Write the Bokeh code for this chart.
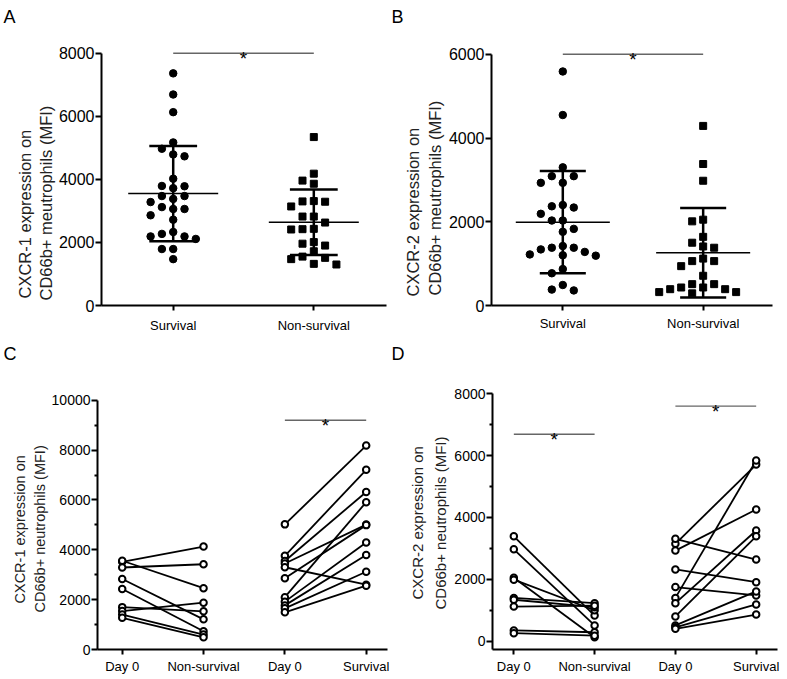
import numpy as np
from bokeh.plotting import figure
from bokeh.models import FixedTicker, Range1d, Title
from bokeh.layouts import row, column
from bokeh.embed import file_html
from bokeh.resources import INLINE
from bokeh.core.properties import value

FONT = "Liberation Sans"

# ---------------- data ----------------
# Panel A: CXCR-1 (MFI), Survival vs Non-survival
a_labels = ["Survival", "Non-survival"]
a_survival = [7360, 6690, 6130, 5170, 4970, 4790, 4730, 4020, 3790, 3780, 3720,
              3470, 3470, 3380, 3280, 3120, 3060, 3060, 2860, 2720, 2330, 2270,
              2190, 2190, 2110, 1790, 1790, 1470]
a_nonsurvival = [5340, 4180, 3960, 3860, 3310, 3300, 3290, 3140, 2820, 2820, 2630,
                 2430, 2420, 2410, 2010, 1960, 1900, 1720, 1550, 1510, 1470, 1320, 1300]
a_mean = [3550, 2640]
a_sd = [1510, 1040]
a_sig = 8000

# Panel B: CXCR-2 (MFI), Survival vs Non-survival
b_labels = ["Survival", "Non-survival"]
b_survival = [5590, 4550, 3300, 3090, 3090, 2930, 2930, 2400, 2370, 2340, 2190,
              2030, 2030, 1830, 1760, 1420, 1380, 1380, 1340, 1280, 1220, 1200,
              1190, 870, 770, 490, 380, 360]
b_nonsurvival = [4290, 3380, 2980, 2050, 2010, 1640, 1500, 1410, 1380, 1120, 1060,
                 1060, 940, 710, 510, 510, 430, 430, 390, 390, 320, 320, 290]
b_mean = [1990, 1260]
b_sd = [1220, 1070]
b_sig = 6000

# Panel C: CXCR-1 paired
cd_labels = ["Day 0", "Non-survival", "Day 0", "Survival"]
c_day0_ns = [3520, 3290, 3560, 2830, 2430, 1700, 1540, 1400, 1270]
c_nonsurv = [4130, 3420, 2460, 1210, 730, 1530, 1880, 600, 490]
c_day0_s = [5020, 3760, 3550, 3450, 3300, 2860, 2100, 1920, 1770, 1650, 1490]
c_surv = [8180, 7210, 6320, 5010, 2600, 4990, 5910, 4290, 3790, 3120, 2560]
c_sig = [9200]

# Panel D: CXCR-2 paired
d_day0_ns = [3390, 2970, 2050, 1990, 1400, 1340, 1120, 350, 260]
d_nonsurv = [830, 510, 130, 1000, 1230, 1100, 1150, 290, 180]
d_day0_s = [3150, 2930, 3310, 2320, 1750, 1400, 1230, 800, 510, 450, 400]
d_surv = [5710, 4260, 2640, 1910, 1480, 5840, 3580, 3390, 1610, 1190, 860]
d_sig = [6690, 7600]


# ---------------- helpers ----------------
def make_fig(width, height, xr, yr, left, right, top, bottom):
    p = figure(width=width, height=height, x_range=Range1d(*xr), y_range=Range1d(*yr),
               output_backend="svg", toolbar_location=None,
               min_border_left=left, min_border_right=right,
               min_border_top=top, min_border_bottom=bottom)
    p.grid.visible = False
    p.outline_line_color = None
    p.background_fill_color = "white"
    p.border_fill_color = "white"
    return p


def swarm(vals, center, step, px_per_val, min_sep=9.0):
    vals = np.asarray(vals, dtype=float)
    order = np.argsort(-vals, kind="stable")
    placed = {}
    xs = np.zeros(len(vals))
    for i in order:
        ypx = vals[i] * px_per_val
        for k in [0, -1, 1, -2, 2, -3, 3, -4, 4, -5, 5]:
            col = placed.setdefault(k, [])
            if all(abs(ypx - y) >= min_sep for y in col):
                col.append(ypx)
                xs[i] = center + k * step
                break
    return xs


def style_axes(p, yticks, yminor, ybounds, xlabels, tick_size, cat_size, cat_standoff):
    ya = p.yaxis[0]
    ya.ticker = FixedTicker(ticks=yticks, minor_ticks=yminor)
    ya.bounds = ybounds
    ya.axis_line_width = 2
    ya.axis_line_color = "black"
    ya.major_tick_line_width = 2
    ya.minor_tick_line_width = 2
    ya.major_tick_out = 6
    ya.major_tick_in = 0
    ya.minor_tick_out = 3
    ya.minor_tick_in = 0
    ya.major_label_standoff = 1
    ya.major_label_text_font = FONT
    ya.major_label_text_font_size = tick_size
    ya.major_label_text_color = "black"

    xa = p.xaxis[0]
    ticks = list(range(1, len(xlabels) + 1))
    xa.ticker = FixedTicker(ticks=ticks, minor_ticks=[])
    xa.major_label_overrides = {t: lab for t, lab in zip(ticks, xlabels)}
    xa.axis_line_width = 2
    xa.axis_line_color = "black"
    xa.major_tick_line_width = 2
    xa.major_tick_out = 5
    xa.major_tick_in = 0
    xa.major_label_standoff = cat_standoff
    xa.major_label_text_font = FONT
    xa.major_label_text_font_size = cat_size
    xa.major_label_text_color = "black"


def add_texts(p, letter, letter_offset, letter_standoff,
              ylines, yl_offsets, yl_standoffs, yl_size):
    p.title.text = letter
    p.title.align = "left"
    p.title.offset = letter_offset
    p.title.standoff = letter_standoff
    p.title.vertical_align = "top"
    p.title.text_font = FONT
    p.title.text_font_size = "18px"
    p.title.text_font_style = "normal"
    p.title.text_color = "black"
    p.title.text_line_height = 1.0
    # inner line first (closest to the axis), then the outer line
    for line, off, so in zip(reversed(ylines), reversed(yl_offsets), reversed(yl_standoffs)):
        p.add_layout(Title(text=line, align="left", offset=off, standoff=so,
                           text_font=FONT, text_font_size=yl_size, text_font_style="normal",
                           text_color="#222222", text_line_height=0.9), "left")


def sig_bar(p, x0, x1, level, star_size="19px"):
    p.segment(x0=[x0], x1=[x1], y0=[level], y1=[level], line_color="#666666", line_width=1.4)
    p.text(x=[(x0 + x1) / 2], y=[level], text=["*"], text_font=value(FONT),
           text_font_size=star_size, text_align="center", text_baseline="alphabetic",
           y_offset=5, text_color="black")


def dot_panel(p, groups, markers, sizes, means, sds, step, px_per_val, half_mean, half_cap):
    for i, (vals, mk, sz) in enumerate(zip(groups, markers, sizes)):
        c = i + 1
        xs = swarm(vals, c, step, px_per_val)
        p.scatter(xs, vals, marker=mk, size=sz, fill_color="black", line_color="black")
        m, s = means[i], sds[i]
        p.segment(x0=[c - half_mean], x1=[c + half_mean], y0=[m], y1=[m],
                  line_color="black", line_width=1.6)
        p.segment(x0=[c], x1=[c], y0=[m - s], y1=[m + s], line_color="black", line_width=2.5)
        p.segment(x0=[c - half_cap, c - half_cap], x1=[c + half_cap, c + half_cap],
                  y0=[m - s, m + s], y1=[m - s, m + s], line_color="black", line_width=2.5)


def paired_panel(p, pairs):
    for xa, xb, va, vb in pairs:
        p.multi_line([[xa, xb] for _ in va], [[a, b] for a, b in zip(va, vb)],
                     line_color="black", line_width=1.8)
    for xa, xb, va, vb in pairs:
        p.scatter([xa] * len(va), va, marker="circle", size=6.5, fill_color="white",
                  line_color="black", line_width=2)
        p.scatter([xb] * len(vb), vb, marker="circle", size=6.5, fill_color="white",
                  line_color="black", line_width=2)


# ---------------- Panel A ----------------
pA = make_fig(390, 335, (0.49, 2.517), (0, 8719), 101, 4, 30, 30)
style_axes(pA, [0, 2000, 4000, 6000, 8000], [], (0, 8000), a_labels, "16px", "13px", 7)
dot_panel(pA, [a_survival, a_nonsurvival], ["circle", "square"], [7.5, 7],
          a_mean, a_sd, 0.0804, 275 / 8719, 0.32, 0.17)
sig_bar(pA, 1, 2, a_sig)
add_texts(pA, "A", -98, 4,
          ["CXCR-1 expression on", "CD66b+ meutrophils (MFI)"], [7, 5], [0, 2], "16.5px")

# ---------------- Panel B ----------------
pB = make_fig(397, 335, (0.492, 2.494), (0, 6569), 101, 15, 30, 28)
style_axes(pB, [0, 2000, 4000, 6000], [], (0, 6000), b_labels, "16px", "13px", 5)
dot_panel(pB, [b_survival, b_nonsurvival], ["circle", "square"], [7.5, 7],
          b_mean, b_sd, 0.0783, 277 / 6569, 0.335, 0.164)
sig_bar(pB, 1, 2, b_sig)
add_texts(pB, "B", -100, 4,
          ["CXCR-2 expression on", "CD66b+ meutrophils (MFI)"], [9, 10], [0, 4], "16.5px")

# ---------------- Panel C ----------------
pC = make_fig(390, 344, (0.696, 4.262), (0, 11394), 97, 3, 30, 28)
style_axes(pC, [0, 2000, 4000, 6000, 8000, 10000], [1000, 3000, 5000, 7000, 9000],
           (0, 10000), cd_labels, "14px", "13px", 4)
paired_panel(pC, [(1, 2, c_day0_ns, c_nonsurv), (3, 4, c_day0_s, c_surv)])
sig_bar(pC, 3, 4, c_sig[0])
add_texts(pC, "C", -94, 0,
          ["CXCR-1 expression on", "CD66b+ neutrophils (MFI)"], [46, 37], [2, 2], "14.5px")

# ---------------- Panel D ----------------
pD = make_fig(397, 344, (0.736, 4.264), (-268, 8914), 102, 10, 30, 30)
style_axes(pD, [0, 2000, 4000, 6000, 8000], [1000, 3000, 5000, 7000],
           (-268, 8000), cd_labels, "14px", "13px", 4)
paired_panel(pD, [(1, 2, d_day0_ns, d_nonsurv), (3, 4, d_day0_s, d_surv)])
sig_bar(pD, 1, 2, d_sig[0])
sig_bar(pD, 3, 4, d_sig[1])
add_texts(pD, "D", -101, 0,
          ["CXCR-2 expression on", "CD66b+ neutrophils (MFI)"], [50, 40], [2, 6], "15px")

layout = column(row(pA, pB), row(pC, pD))
open("out.html", "w").write(file_html(layout, INLINE))
